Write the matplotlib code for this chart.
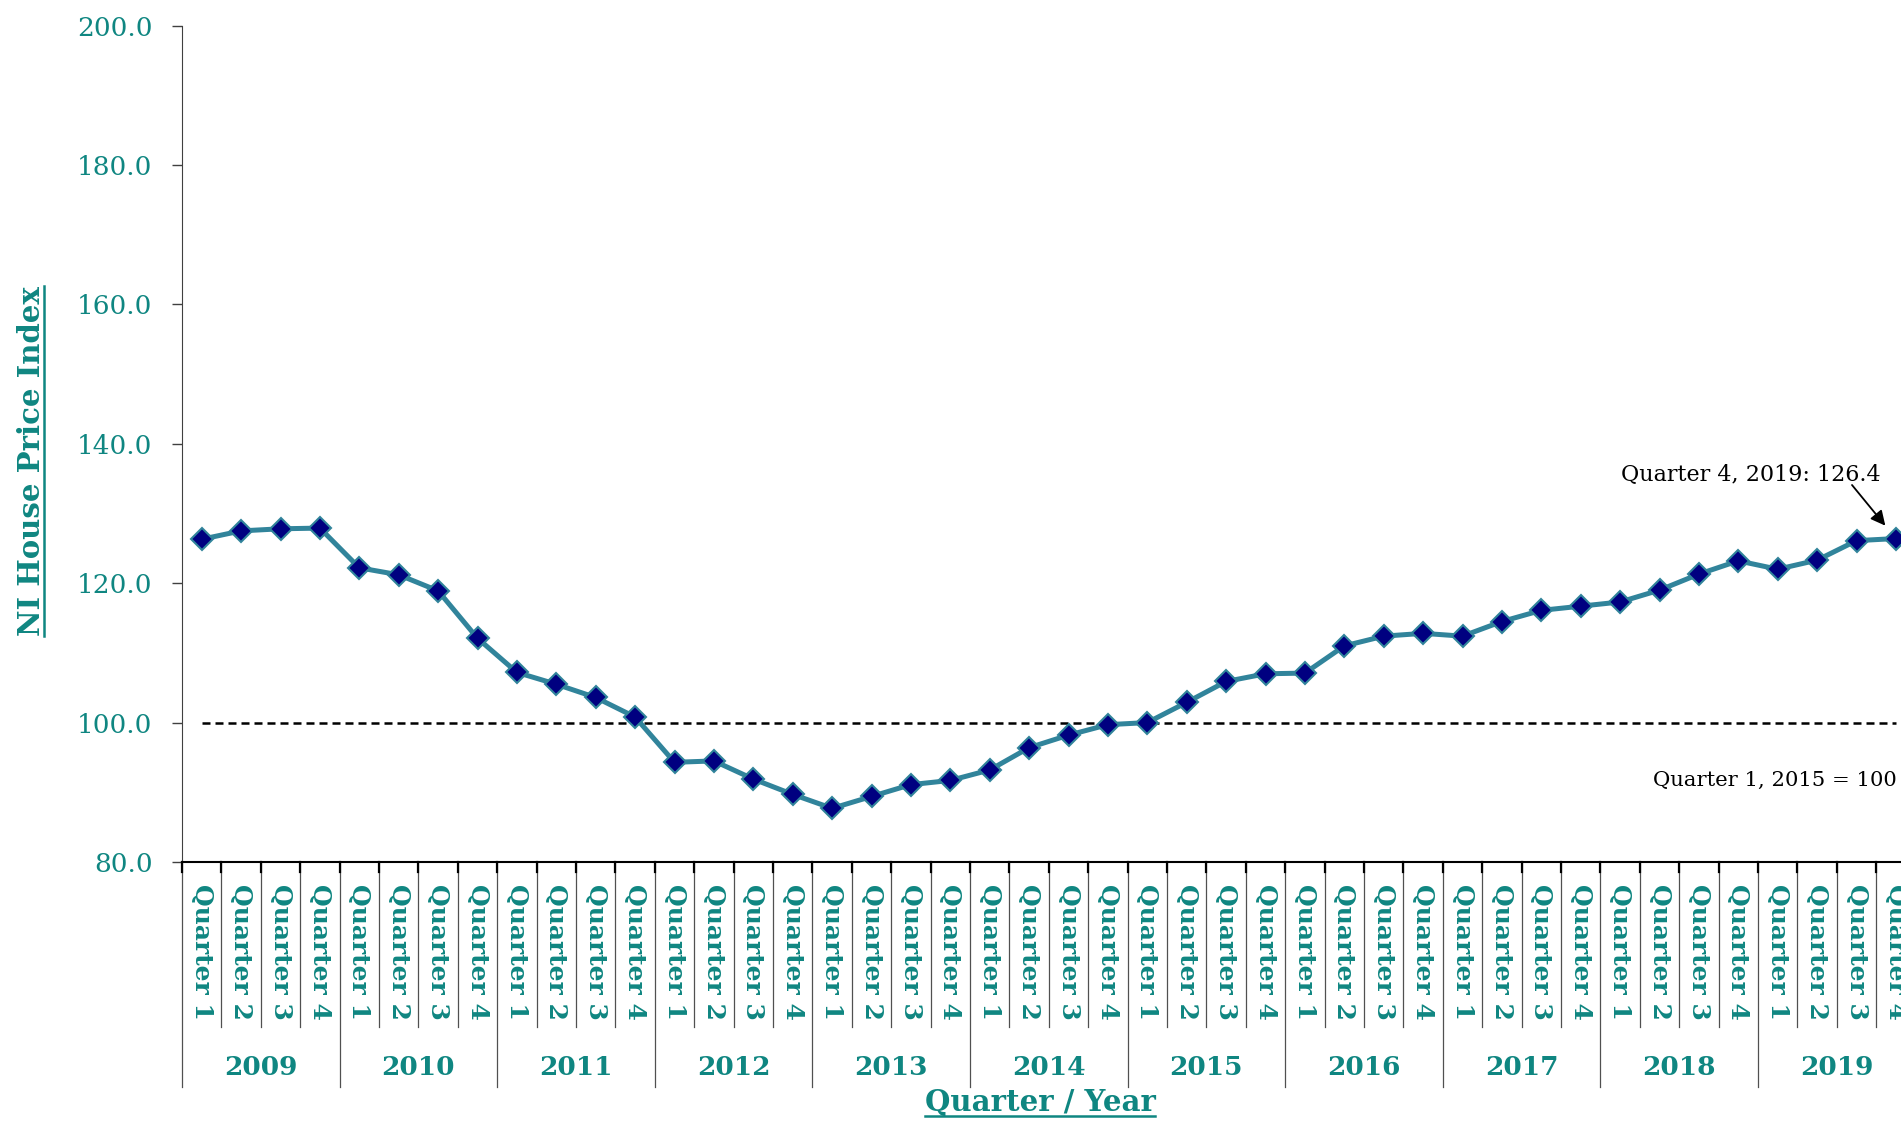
import matplotlib
matplotlib.use("Agg")
import matplotlib.pyplot as plt
import matplotlib.transforms as mtransforms
from matplotlib.lines import Line2D

plt.rcParams["font.family"] = ["DejaVu Serif"]

# data
years = ["2009", "2010", "2011", "2012", "2013", "2014",
         "2015", "2016", "2017", "2018", "2019"]
quarters = ["Quarter 1", "Quarter 2", "Quarter 3", "Quarter 4"]
hpi = [126.3, 127.5, 127.8, 127.9,
       122.2, 121.2, 118.9, 112.1,
       107.2, 105.5, 103.6, 100.8,
       94.3, 94.5, 91.9, 89.7,
       87.7, 89.4, 91.1, 91.7,
       93.2, 96.4, 98.2, 99.7,
       100.0, 102.9, 105.9, 107.0,
       107.1, 111.0, 112.4, 112.8,
       112.4, 114.5, 116.1, 116.7,
       117.3, 119.0, 121.3, 123.2,
       122.0, 123.3, 126.1, 126.4]
base_value = 100.0
y_ticks = [80, 100, 120, 140, 160, 180, 200]
base_label = "Quarter 1, 2015 = 100"
latest_label = "Quarter 4, 2019: 126.4"

TEAL = "#0F8681"
LINE = "#31849B"
NAVY = "#000080"

W, H = 1901, 1122
fig = plt.figure(figsize=(W / 100, H / 100), dpi=100)
ax = fig.add_axes([182 / W, 1 - 862 / H, (1915.6 - 182) / W, (862 - 25.5) / H])

labels = [q for y in years for q in quarters]
x = list(range(len(labels)))

# reference line and series
ax.plot(x, [base_value] * len(x), color="black", lw=1.8, dashes=(3.2, 2.0), zorder=2)
ax.plot(x, hpi, color=LINE, lw=3.6, marker="D", ms=11,
        mfc=NAVY, mec=LINE, mew=1.5, zorder=3)

ax.set_xlim(-0.5, len(x) - 0.5)
ax.set_ylim(y_ticks[0], y_ticks[-1])
ax.set_yticks(y_ticks)
ax.set_yticklabels([f"{v:.1f}" for v in y_ticks])
ax.tick_params(axis="y", length=7.2, width=1, colors="#404040",
               labelcolor=TEAL, labelsize=19, pad=14)
ax.set_xticks(x)
ax.set_xticklabels(labels, rotation=-90, fontweight="bold", color=TEAL,
                   fontsize=18, va="top", ha="center")
ax.tick_params(axis="x", length=0, pad=16)

for s in ["top", "right"]:
    ax.spines[s].set_visible(False)
ax.spines["left"].set_color("#404040")
ax.spines["bottom"].set_color("black")
ax.spines["bottom"].set_linewidth(1.5)

# multi-level category dividers
trans = mtransforms.blended_transform_factory(ax.transData, ax.transAxes)
for k in range(len(x) + 1):
    edge = k - 0.5
    bottom = -0.269 if k % 4 == 0 else -0.197
    ax.plot([edge, edge], [0, bottom], transform=trans, color="#505050",
            lw=0.9, clip_on=False)
    ax.plot([edge, edge], [0, -0.012], transform=trans, color="black",
            lw=1.6, clip_on=False)
for i, yr in enumerate(years):
    ax.text(4 * i + 1.5, -0.246, yr, transform=trans, ha="center", va="center",
            fontsize=19, fontweight="bold", color=TEAL)

# annotations
fig.text(1621 / W, 1 - 475 / H, latest_label, fontsize=16, va="center", ha="left")
ax.annotate("", xy=(x[-1], hpi[-1]), xytext=(1852, H - 485),
            textcoords="figure pixels",
            arrowprops=dict(arrowstyle="-|>", color="black", lw=1.3,
                            mutation_scale=22, shrinkA=0, shrinkB=12))
fig.text(1897 / W, 1 - 780 / H, base_label, fontsize=15.2, va="center", ha="right")

# axis titles (underlined)
ylab = fig.text(31.5 / W, 1 - 461 / H, "NI House Price Index", rotation=90,
                fontsize=21, fontweight="bold", color=TEAL, ha="center", va="center")
xlab = fig.text(1040 / W, 1 - 1103 / H, "Quarter / Year",
                fontsize=21, fontweight="bold", color=TEAL, ha="center", va="center")

fig.canvas.draw()
bb = ylab.get_window_extent()
fig.add_artist(Line2D([(bb.x1 - 2) / W] * 2, [bb.y0 / H, bb.y1 / H],
                      transform=fig.transFigure, color=TEAL, lw=1.8))
bb = xlab.get_window_extent()
fig.add_artist(Line2D([bb.x0 / W, bb.x1 / W], [(bb.y0 + 2) / H] * 2,
                      transform=fig.transFigure, color=TEAL, lw=1.8))

fig.savefig("out.png", dpi=100, facecolor="white")
